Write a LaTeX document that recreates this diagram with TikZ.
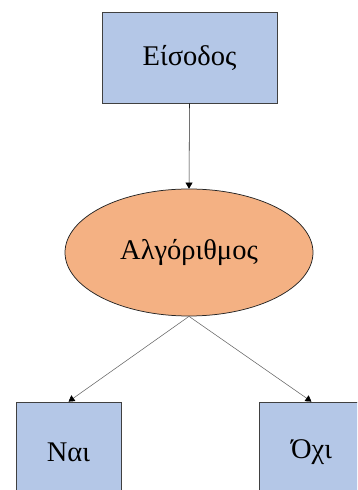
\documentclass[tikz,border=0pt]{standalone}
\usepackage{fontspec}
\setmainfont{Liberation Serif}
\usetikzlibrary{arrows.meta,shapes.geometric}
\definecolor{boxblue}{HTML}{B4C7E7}
\definecolor{algoorange}{HTML}{F4B183}
\tikzset{every picture/.style={line width=0.75pt}}

\begin{document}
\begin{tikzpicture}[x=1pt,y=1pt,
    blok/.style={draw=black!75, fill=boxblue, inner sep=0pt,
        font=\fontsize{28.5}{32}\selectfont},
    algo/.style={ellipse, draw=black!85, fill=algoorange, inner sep=0pt,
        minimum width=248pt, minimum height=127pt,
        font=\fontsize{28.5}{32}\selectfont},
    beluk/.style={-{Triangle[length=6pt,width=7pt,color=black]}, line width=0.55pt, draw=black!60}]
    % 边界
    \useasboundingbox (0,0) rectangle (357,490);
    \clip (0,0) rectangle (357,490);

    % 输入
    \node[blok, minimum width=175pt, minimum height=91pt] (eisodos) at (189.5,432.5) {Είσοδος};

    % 算法
    \node[algo] (algorithmos) at (189,237.5) {Αλγόριθμος};

    % 结果
    \node[blok, minimum width=105pt, minimum height=100pt] (nai) at (68.5,38) {Ναι};
    \node[blok, minimum width=105pt, minimum height=100pt] (oxi) at (311.5,38) {Όχι};

    % 箭头
    \draw[beluk, draw=black!85] (eisodos.south) -- (algorithmos.north);
    \draw[beluk] (algorithmos.south) -- (nai.north);
    \draw[beluk] (algorithmos.south) -- (oxi.north);
\end{tikzpicture}
\end{document}
